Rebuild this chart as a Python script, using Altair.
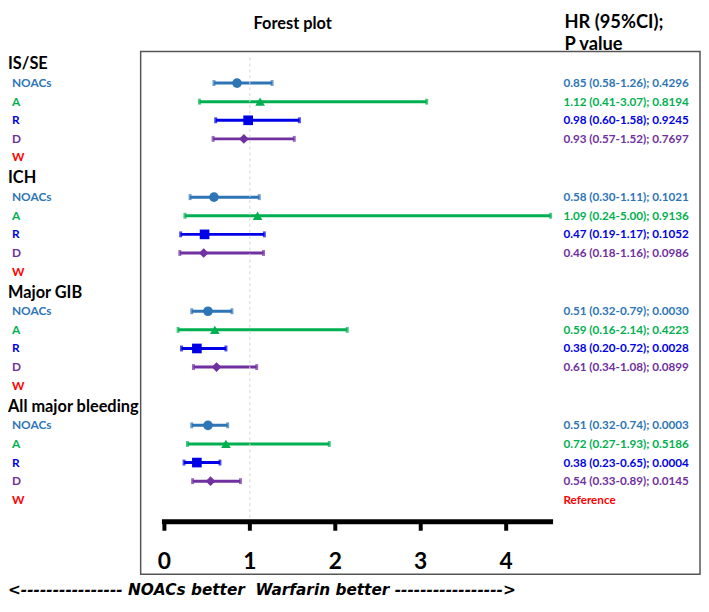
import altair as alt
import pandas as pd

# ---------------- data ----------------
groups = ["IS/SE", "ICH", "Major GIB", "All major bleeding"]
drugs = ["NOACs", "A", "R", "D", "W"]
drug_colors = ["#2E75B6", "#00B050", "#0000E6", "#7030A0", "#FF0000"]
text_colors = ["#2E75B6", "#00B050", "#1414B8", "#7030A0", "#E8141B"]
drug_shapes = ["circle", "triangle-up", "square", "diamond"]

hr_isse = [0.85, 1.12, 0.98, 0.93]
lo_isse = [0.58, 0.41, 0.60, 0.57]
hi_isse = [1.26, 3.07, 1.58, 1.52]
p_isse = ["0.4296", "0.8194", "0.9245", "0.7697"]

hr_ich = [0.58, 1.09, 0.47, 0.46]
lo_ich = [0.30, 0.24, 0.19, 0.18]
hi_ich = [1.11, 5.00, 1.17, 1.16]
p_ich = ["0.1021", "0.9136", "0.1052", "0.0986"]

hr_gib = [0.51, 0.59, 0.38, 0.61]
lo_gib = [0.32, 0.16, 0.20, 0.34]
hi_gib = [0.79, 2.14, 0.72, 1.08]
p_gib = ["0.0030", "0.4223", "0.0028", "0.0899"]

hr_all = [0.51, 0.72, 0.38, 0.54]
lo_all = [0.32, 0.27, 0.23, 0.33]
hi_all = [0.74, 1.93, 0.65, 0.89]
p_all = ["0.0003", "0.5186", "0.0004", "0.0145"]

tick_values = [0, 1, 2, 3, 4]
axis_max = 4.52
reference_label = "Reference"

# ---------------- tables ----------------
group_data = [
    (hr_isse, lo_isse, hi_isse, p_isse),
    (hr_ich, lo_ich, hi_ich, p_ich),
    (hr_gib, lo_gib, hi_gib, p_gib),
    (hr_all, lo_all, hi_all, p_all),
]

GROUP_STEP = 6.13  # rows per block incl. a small gap

est_rows, label_rows, head_rows, ann_rows = [], [], [], []
for g, (name, (hr, lo, hi, p)) in enumerate(zip(groups, group_data)):
    base = g * GROUP_STEP
    head_rows.append({"row": base, "label": name})
    for d, drug in enumerate(drugs):
        label_rows.append({"row": base + 1 + d, "label": drug, "drug": drug})
    for d in range(4):
        est_rows.append({
            "row": base + 1 + d, "drug": drugs[d],
            "hr": hr[d], "lo": lo[d], "hi": min(hi[d], axis_max),
        })
        ann_rows.append({
            "row": base + 1 + d, "drug": drugs[d],
            "text": f"{hr[d]:.2f} ({lo[d]:.2f}-{hi[d]:.2f}); {p[d]}",
        })
ann_rows.append({"row": 3 * GROUP_STEP + 5, "drug": "W", "text": reference_label})

est = pd.DataFrame(est_rows)
labels = pd.DataFrame(label_rows)
heads = pd.DataFrame(head_rows)
ann = pd.DataFrame(ann_rows)
ticks = pd.DataFrame({"t": tick_values})
axis_df = pd.DataFrame({"a": [0.0], "b": [axis_max]})
one = pd.DataFrame({"k": [0]})

# ---------------- scales ----------------
W, H = 700, 596
x0_px, px_per_unit = 158.0, 86.3
row0_px, px_per_row = 54.0, 18.8
x_scale = alt.Scale(domain=[-x0_px / px_per_unit, (W - x0_px) / px_per_unit],
                    nice=False, zero=False)
y_scale = alt.Scale(domain=[-row0_px / px_per_row, (H - row0_px) / px_per_row],
                    reverse=True, nice=False, zero=False)
col_scale = alt.Scale(domain=drugs, range=drug_colors)
txt_scale = alt.Scale(domain=drugs, range=text_colors)
shape_scale = alt.Scale(domain=drugs[:4], range=drug_shapes)

FONT = "Lato"

X = lambda f: alt.X(f, type="quantitative", scale=x_scale, axis=None)
Y = lambda f: alt.Y(f, type="quantitative", scale=y_scale, axis=None)

box = alt.Chart(one).mark_rect(fill=None, stroke="#555555", strokeWidth=1.5).encode(
    x=alt.value(134), x2=alt.value(699), y=alt.value(41), y2=alt.value(569))

bars = alt.Chart(est).mark_rule(strokeWidth=3).encode(
    x=X("lo"), x2="hi", y=Y("row"),
    color=alt.Color("drug:N", scale=col_scale, legend=None))

caps_lo = alt.Chart(est).mark_tick(orient="vertical", size=6, thickness=3).encode(
    x=X("lo"), y=Y("row"),
    color=alt.Color("drug:N", scale=col_scale, legend=None))
caps_hi = alt.Chart(est).mark_tick(orient="vertical", size=6, thickness=3).encode(
    x=X("hi"), y=Y("row"),
    color=alt.Color("drug:N", scale=col_scale, legend=None))

points = alt.Chart(est).mark_point(filled=True, opacity=1, size=95).encode(
    x=X("hr"), y=Y("row"),
    color=alt.Color("drug:N", scale=col_scale, legend=None),
    shape=alt.Shape("drug:N", scale=shape_scale, legend=None))

ref_line = alt.Chart(pd.DataFrame({"r": [1]})).mark_rule(
    color="#d6d6d6", strokeWidth=1, strokeDash=[3, 3]).encode(
    x=X("r"), y=alt.value(47), y2=alt.value(516))

head_text = alt.Chart(heads).mark_text(
    align="left", baseline="middle", font=FONT, fontWeight="bold", fontSize=16.5,
    color="black").encode(x=alt.value(0), y=Y("row"), text="label:N")

drug_text = alt.Chart(labels).mark_text(
    align="left", baseline="middle", font=FONT, fontWeight="bold", fontSize=12).encode(
    x=alt.value(4), y=Y("row"), text="label:N",
    color=alt.Color("drug:N", scale=txt_scale, legend=None))

ann_text = alt.Chart(ann).mark_text(
    align="left", baseline="middle", font=FONT, fontWeight="bold", fontSize=11.8).encode(
    x=alt.value(561), y=Y("row"), text="text:N",
    color=alt.Color("drug:N", scale=txt_scale, legend=None))

axis_line = alt.Chart(axis_df).mark_rule(strokeWidth=5, color="black", strokeCap="square").encode(
    x=X("a"), x2="b", y=alt.value(516))

tick_marks = alt.Chart(ticks).mark_rule(strokeWidth=4, color="black").encode(
    x=X("t"), y=alt.value(516), y2=alt.value(525))

tick_labels = alt.Chart(ticks).mark_text(
    font=FONT, fontWeight="bold", fontSize=23, baseline="alphabetic", color="black").encode(
    x=X("t"), y=alt.value(564), text="t:Q")

def title_text(txt, x, y, size, align="left", style="normal", font=FONT):
    return alt.Chart(one).mark_text(
        text=txt, align=align, baseline="alphabetic", font=font, fontWeight="bold",
        fontSize=size, fontStyle=style, color="black").encode(
        x=alt.value(x), y=alt.value(y))

t1 = title_text("Forest plot", 248, 18, 16.5)
t2 = title_text("HR (95%CI);", 562, 17, 18.5)
t3 = title_text("P value", 562, 39, 18.5)
t4 = title_text("<---------------- NOACs better\u00a0\u00a0Warfarin better ----------------->",
                0, 590, 15.5, style="italic", font="DejaVu Sans")

chart = alt.layer(
    box, bars, caps_lo, caps_hi, ref_line, points, head_text, drug_text, ann_text,
    axis_line, tick_marks, tick_labels, t1, t2, t3, t4
).properties(
    width=W, height=H, padding=0, autosize=alt.AutoSizeParams(type="none")
).configure_view(strokeWidth=0)

chart.save("out.html", embed_options={"renderer": "svg", "actions": False})
